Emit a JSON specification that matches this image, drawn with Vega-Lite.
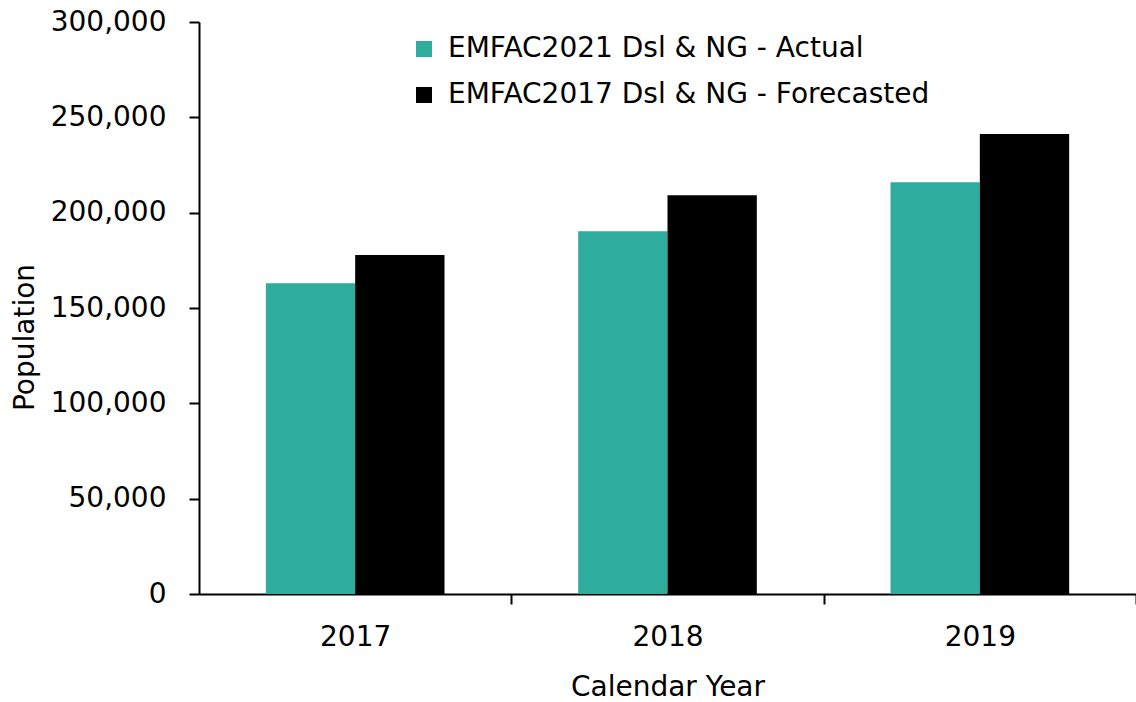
{
  "$schema": "https://vega.github.io/schema/vega-lite/v6.json",
  "width": 937,
  "height": 572,
  "autosize": {"type": "none"},
  "padding": {"left": 199, "top": 22, "right": 0, "bottom": 108},
  "background": "white",
  "config": {
    "font": "DejaVu Sans",
    "view": {"stroke": null},
    "axis": {"domainColor": "black", "domainWidth": 2, "tickColor": "black", "tickWidth": 2, "tickSize": 10, "labelColor": "black", "titleColor": "black", "grid": false, "labelFont": "DejaVu Sans", "titleFont": "DejaVu Sans", "labelFontWeight": "normal", "titleFontWeight": "normal"}
  },
  "data": {
    "values": [
      {"year": "2017", "series": "EMFAC2021 Dsl & NG - Actual", "population": 163000},
      {"year": "2017", "series": "EMFAC2017 Dsl & NG - Forecasted", "population": 177850},
      {"year": "2018", "series": "EMFAC2021 Dsl & NG - Actual", "population": 190300},
      {"year": "2018", "series": "EMFAC2017 Dsl & NG - Forecasted", "population": 209200},
      {"year": "2019", "series": "EMFAC2021 Dsl & NG - Actual", "population": 216000},
      {"year": "2019", "series": "EMFAC2017 Dsl & NG - Forecasted", "population": 241200}
    ]
  },
  "mark": {"type": "bar"},
  "encoding": {
    "x": {
      "field": "year", "type": "nominal",
      "scale": {"paddingInner": 0.428, "paddingOuter": 0.214},
      "axis": {"title": "Calendar Year", "labelAngle": 0, "labelFontSize": 28, "titleFontSize": 28, "labelBaseline": "alphabetic", "labelPadding": 41, "labelOffset": -156, "titleBaseline": "alphabetic", "titleY": 101, "titlePadding": 0, "ticks": true, "tickOffset": 156}
    },
    "xOffset": {
      "field": "series", "type": "nominal",
      "sort": ["EMFAC2021 Dsl & NG - Actual", "EMFAC2017 Dsl & NG - Forecasted"],
      "scale": {"paddingInner": 0, "paddingOuter": 0}
    },
    "y": {
      "field": "population", "type": "quantitative",
      "scale": {"domain": [0, 300000], "nice": false},
      "axis": {"title": "Population", "values": [0, 50000, 100000, 150000, 200000, 250000, 300000], "format": ",d", "labelFontSize": 28, "titleFontSize": 28, "labelPadding": 23, "titleAngle": -90, "titleAlign": "center", "titleBaseline": "alphabetic", "titleX": -166, "titleY": 315}
    },
    "color": {
      "field": "series", "type": "nominal",
      "sort": ["EMFAC2021 Dsl & NG - Actual", "EMFAC2017 Dsl & NG - Forecasted"],
      "scale": {"domain": ["EMFAC2021 Dsl & NG - Actual", "EMFAC2017 Dsl & NG - Forecasted"], "range": ["#2EAC9D", "#000000"]},
      "legend": {"title": null, "orient": "none", "legendX": 211, "legendY": 13, "symbolType": "square", "symbolSize": 256, "labelFontSize": 28, "labelColor": "black", "rowPadding": 18, "labelOffset": 10, "labelLimit": 700, "symbolStrokeWidth": 0}
    }
  }
}
